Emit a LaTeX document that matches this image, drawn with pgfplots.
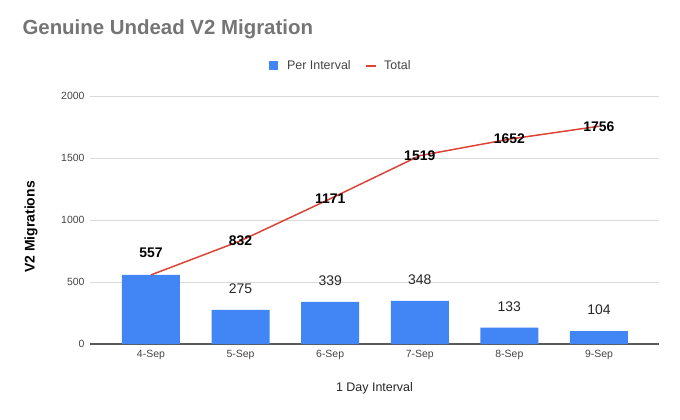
\documentclass[border=0pt]{standalone}
\usepackage{pgfplots}
\usepackage{pgfplotstable}
\pgfplotsset{compat=1.18}
\usepackage{fontspec}
\setmainfont{Liberation Sans}
\definecolor{gblue}{HTML}{4285F4}
\definecolor{gred}{HTML}{DB4437}
\definecolor{ggray}{HTML}{757575}
\definecolor{gtxt}{HTML}{444444}
\definecolor{ggrid}{HTML}{DADADA}

\pgfplotstableread{
x per lab
0 557 {}
1 275 275
2 339 339
3 348 348
4 133 133
5 104 104
}\bars

\pgfplotstableread{
x tot lab dy
0 557 557 22
1 832 832 0
2 1171 1171 0
3 1519 1519 0
4 1652 1652 0
5 1756 1756 0
}\total

\begin{document}
\begin{tikzpicture}[x=1bp,y=1bp]
\useasboundingbox (0,0) rectangle (680,419);
\begin{axis}[
  at={(90bp,75bp)}, anchor=south west,
  scale only axis, width=569bp, height=248bp,
  xmin=-0.68, xmax=5.67, ymin=0, ymax=2000,
  ytick={0,500,1000,1500,2000},
  xtick={0,1,2,3,4,5},
  xticklabels={4-Sep,5-Sep,6-Sep,7-Sep,8-Sep,9-Sep},
  /pgf/number format/assume math mode=true,
  /pgf/number format/1000 sep={},
  axis x line*=bottom, axis y line*=left,
  y axis line style={draw=none},
  x axis line style={draw=black!65, line width=1.2bp},
  major tick length=0pt,
  ymajorgrids, grid style={ggrid, line width=0.8bp},
  ticklabel style={font=\fontsize{10.5}{12}\selectfont, text=gtxt},
  yticklabel style={xshift=-2bp},
  xticklabel style={yshift=-3bp},
  bar width=58bp,
  title={Genuine Undead V2 Migration},
  title style={at={(rel axis cs:0,1)}, xshift=-71bp, yshift=56bp, anchor=base west,
    font=\fontsize{20.5}{24}\selectfont\bfseries, text=ggray},
  xlabel={1 Day Interval},
  ylabel={V2 Migrations},
  every axis x label/.style={at={(rel axis cs:0.5,0)}, yshift=-44bp, anchor=center,
    font=\fontsize{12.5}{15}\selectfont, text=black!85},
  every axis y label/.style={at={(rel axis cs:0,0.472)}, xshift=-59bp, anchor=center, rotate=90,
    font=\fontsize{14}{16}\selectfont\bfseries, text=black},
  legend style={at={(rel axis cs:0.439,1.121)}, anchor=center, draw=none, fill=none,
    legend columns=2, font=\fontsize{12.5}{14}\selectfont, text=gtxt,
    nodes={inner sep=0pt},
    /tikz/every odd column/.append style={column sep=7bp},
    /tikz/every even column/.append style={column sep=14bp}},
]
\addplot[ybar, bar shift=0pt, fill=gblue, draw=none,
  legend image code/.code={\fill[gblue] (0bp,-4.5bp) rectangle (9bp,4.5bp); \path (11bp,0bp);},
  nodes near coords, point meta=explicit symbolic,
  every node near coord/.append style={anchor=center, yshift=21bp,
    font=\fontsize{14}{16}\selectfont, text=black!85}]
  table[x=x, y=per, meta=lab] {\bars};
\addlegendentry{Per Interval}
\addplot[gred, line width=1.5bp, mark=none,
  legend image code/.code={\draw[gred, line width=2.5bp] (0bp,0bp) -- (10bp,0bp);},
  nodes near coords, point meta=explicit symbolic,
  visualization depends on={\thisrow{dy} \as \dy},
  every node near coord/.append style={anchor=center, yshift=\dy bp,
    font=\fontsize{14}{16}\selectfont\bfseries, text=black}]
  table[x=x, y=tot, meta=lab] {\total};
\addlegendentry{Total}
\end{axis}
\end{tikzpicture}
\end{document}
